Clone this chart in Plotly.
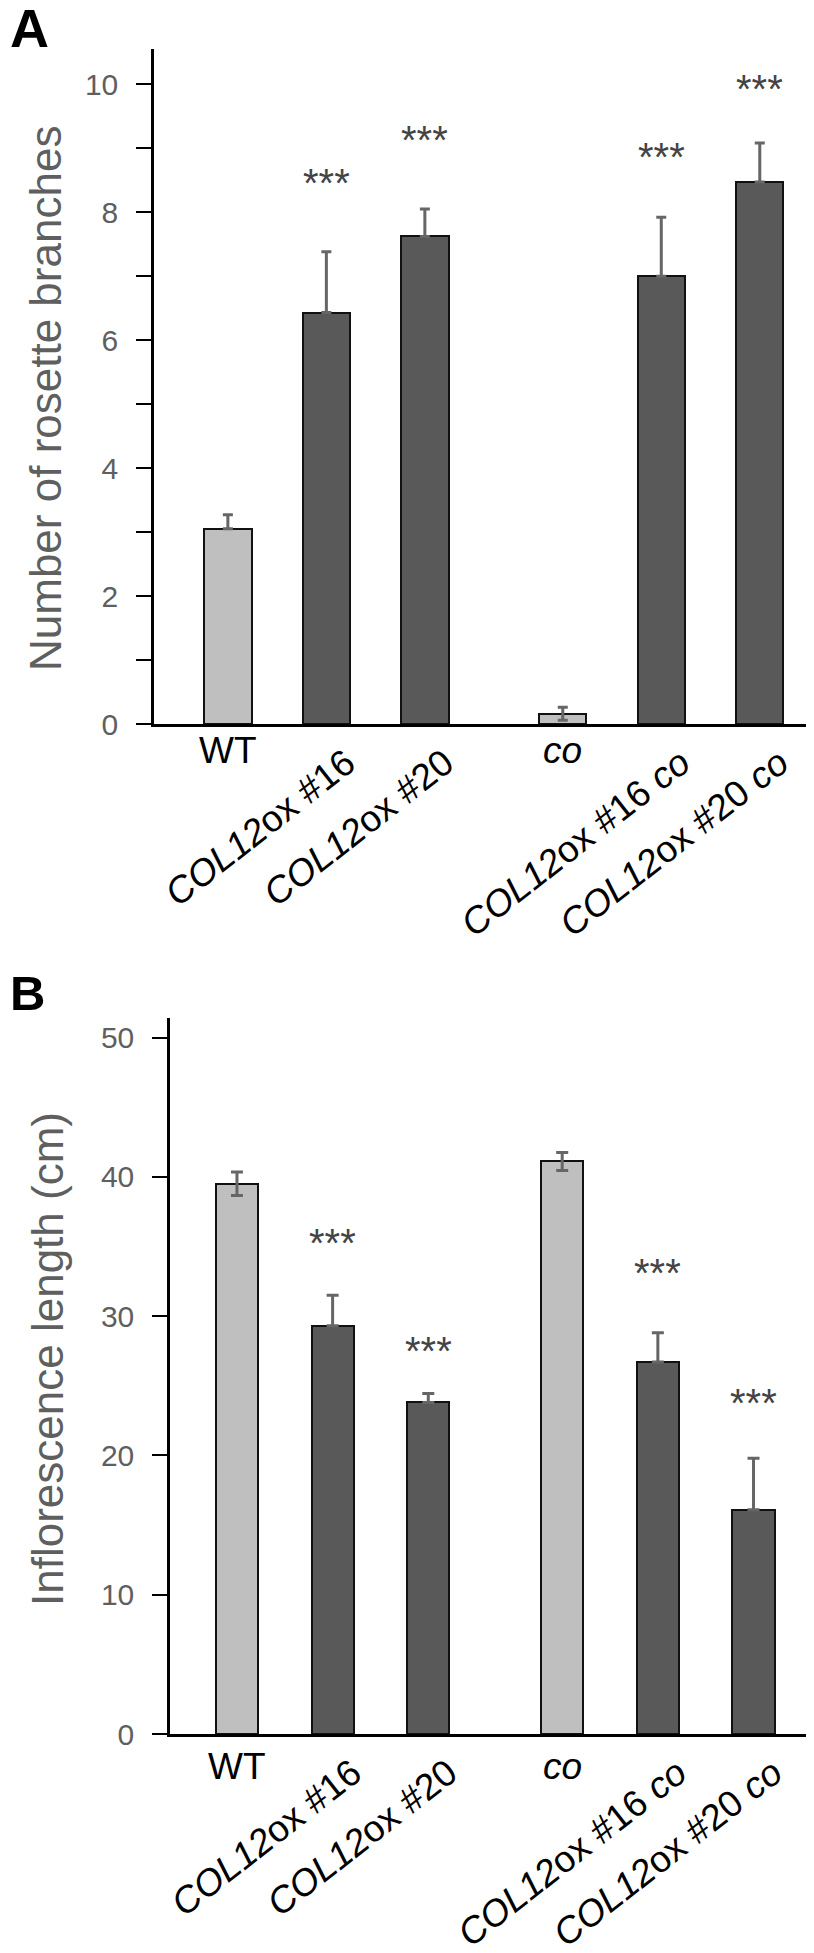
import plotly.graph_objects as go

# page body keeps an 8px margin, so the figure is shifted by that much
PAD = 8
W, H = 814 - PAD, 1953 - PAD

# data
genotypes = ["WT", "COL12ox #16", "COL12ox #20", "co", "COL12ox #16 co", "COL12ox #20 co"]
tick_text = ["WT", "<i>COL12</i>ox #16", "<i>COL12</i>ox #20", "<i>co</i>",
             "<i>COL12</i>ox #16 <i>co</i>", "<i>COL12</i>ox #20 <i>co</i>"]
is_mutant_line = [False, True, True, False, True, True]
stars = ["", "***", "***", "", "***", "***"]

branches = [3.05, 6.43, 7.62, 0.16, 7.0, 8.47]
branches_err = [0.22, 0.95, 0.43, 0.1, 0.92, 0.61]
branches_err_minus = [0, 0, 0, 0.1, 0, 0]

inflo = [39.5, 29.3, 23.8, 41.1, 26.7, 16.1]
inflo_err = [0.85, 2.2, 0.65, 0.65, 2.1, 3.7]
inflo_err_minus = [0.85, 0, 0, 0.65, 0, 0]

# layout helpers
x_pos = [0, 1, 2, 3.4, 4.4, 5.4]
star_shift_a = [0, 45, 45, 0, 36, 30]
star_shift_b = [0, 28, 18, 0, 36, 31]
LIGHT, DARK = "#bfbfbf", "#595959"
GREY_TXT = "#5f5f5f"
FONT = "Liberation Sans, Arial, sans-serif"
colors = [DARK if m else LIGHT for m in is_mutant_line]


def px_x(px):
    return (px - PAD) / W


def px_y(py):
    return 1 - (py - PAD) / H


fig = go.Figure()

panels = [
    dict(vals=branches, err=branches_err, errm=branches_err_minus, xa="x", ya="y",
         width=0.48, cap=5, shifts=star_shift_a),
    dict(vals=inflo, err=inflo_err, errm=inflo_err_minus, xa="x2", ya="y2",
         width=0.44, cap=6, shifts=star_shift_b),
]

for p in panels:
    fig.add_trace(go.Bar(
        x=x_pos, y=p["vals"], width=p["width"], xaxis=p["xa"], yaxis=p["ya"],
        marker=dict(color=colors, line=dict(color="#111111", width=2)),
        error_y=dict(type="data", array=p["err"], arrayminus=p["errm"], symmetric=False,
                     color="#666666", thickness=3, width=p["cap"]),
        showlegend=False,
    ))
    for xv, v, e, s, sh in zip(x_pos, p["vals"], p["err"], stars, p["shifts"]):
        if s:
            fig.add_annotation(x=xv, y=v + e, xref=p["xa"], yref=p["ya"], text=s,
                               showarrow=False, yanchor="bottom", yshift=sh,
                               font=dict(size=40, color="#444444", family=FONT))

rot_vals = [x for x, t in zip(x_pos, genotypes) if "COL12" in t]
rot_text = [tt for tt, t in zip(tick_text, genotypes) if "COL12" in t]

xcommon = dict(showline=True, linecolor="black", linewidth=2.5, ticks="",
               tickvals=rot_vals, ticktext=rot_text, tickangle=-38, ticklabelshift=20,
               tickfont=dict(size=37, color="black", family=FONT),
               showgrid=False, zeroline=False, automargin=False)
ycommon = dict(showline=True, linecolor="black", linewidth=2.5, ticks="outside",
               ticklen=15, tickwidth=2, tickcolor="black",
               tickfont=dict(size=30, color=GREY_TXT, family=FONT),
               showgrid=False, zeroline=False, ticklabelstandoff=12, automargin=False)

fig.update_layout(
    width=W, height=H, margin=dict(l=0, r=0, t=0, b=0),
    plot_bgcolor="white", paper_bgcolor="white", bargap=0,
    xaxis=dict(xcommon, domain=[px_x(154), px_x(810)], range=[-0.75, 5.91], anchor="y"),
    yaxis=dict(ycommon, domain=[px_y(724), px_y(49)], range=[0, 10.55], anchor="x",
               tickvals=[0, 2, 4, 6, 8, 10],
               minor=dict(ticks="outside", ticklen=15, tickwidth=2, tickcolor="black", dtick=1)),
    xaxis2=dict(xcommon, domain=[px_x(170), px_x(809)], range=[-0.70, 5.98], anchor="y2"),
    yaxis2=dict(ycommon, domain=[px_y(1734), px_y(1018)], range=[0, 51.4], anchor="x2",
                tickvals=[0, 10, 20, 30, 40, 50]),
)

# horizontal labels (WT, co)
for xa, yc in [("x", 750), ("x2", 1766)]:
    for xv, tt, t in zip(x_pos, tick_text, genotypes):
        if "COL12" not in t:
            fig.add_annotation(x=xv, y=px_y(yc), xref=xa, yref="paper", text=tt,
                               showarrow=False, xanchor="center", yanchor="middle",
                               font=dict(size=37, color="black", family=FONT))

# axis titles
fig.add_annotation(x=px_x(45), y=px_y(399), xref="paper", yref="paper",
                   text="Number of rosette branches", textangle=-90, showarrow=False,
                   xanchor="center", yanchor="middle",
                   font=dict(size=44, color=GREY_TXT, family=FONT))
fig.add_annotation(x=px_x(47), y=px_y(1359), xref="paper", yref="paper",
                   text="Inflorescence length (cm)", textangle=-90, showarrow=False,
                   xanchor="center", yanchor="middle",
                   font=dict(size=44, color=GREY_TXT, family=FONT))

# panel letters
fig.add_annotation(x=0, y=1, xref="paper", yref="paper", text="<b>A</b>",
                   xanchor="left", yanchor="top", showarrow=False, yshift=12,
                   font=dict(size=54, color="black", family=FONT))
fig.add_annotation(x=0, y=px_y(964), xref="paper", yref="paper", text="<b>B</b>",
                   xanchor="left", yanchor="top", showarrow=False,
                   font=dict(size=49, color="black", family=FONT))

fig.write_html("out.html")
